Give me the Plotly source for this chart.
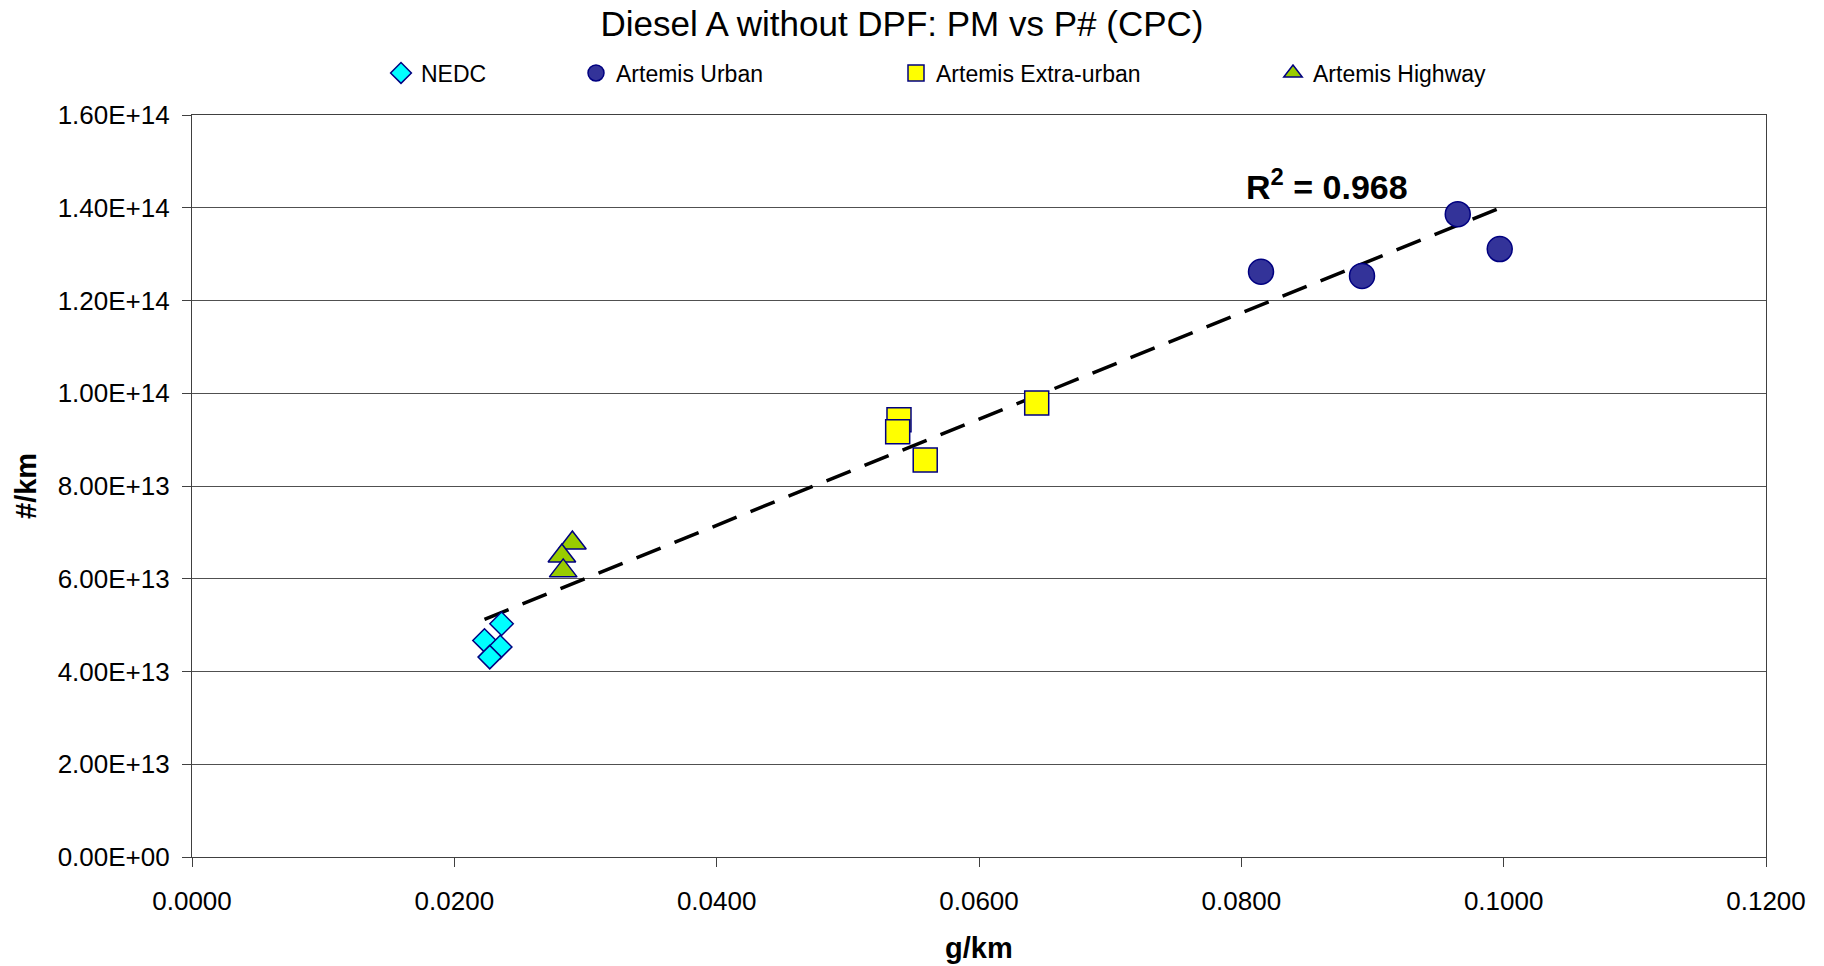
import numpy as np
import plotly.graph_objects as go

# ---- data ----
nedc_x = [0.0236, 0.0223, 0.0235, 0.0227]
nedc_y = [5.03e13, 4.67e13, 4.53e13, 4.31e13]

urban_x = [0.0815, 0.0892, 0.0965, 0.0997]
urban_y = [1.262e14, 1.253e14, 1.386e14, 1.311e14]

extra_x = [0.0539, 0.0538, 0.0559, 0.0644]
extra_y = [9.43e13, 9.17e13, 8.56e13, 9.79e13]

highway_x = [0.0290, 0.0282, 0.0283]
highway_y = [6.77e13, 6.49e13, 6.17e13]

y_tickvals = [0, 2e13, 4e13, 6e13, 8e13, 1e14, 1.2e14, 1.4e14, 1.6e14]
y_ticktext = ["0.00E+00", "2.00E+13", "4.00E+13", "6.00E+13", "8.00E+13",
              "1.00E+14", "1.20E+14", "1.40E+14", "1.60E+14"]
x_tickvals = [0.0, 0.02, 0.04, 0.06, 0.08, 0.10, 0.12]

r2_text = "R<sup>2</sup> = 0.968"

FONT = "Liberation Sans, Arial, sans-serif"
EDGE = "#000080"

fig = go.Figure()

# linear trend over all points
all_x = np.array(nedc_x + urban_x + extra_x + highway_x)
all_y = np.array(nedc_y + urban_y + extra_y + highway_y)
slope, intercept = np.polyfit(all_x, all_y, 1)
tx = np.array([all_x.min(), all_x.max()])
fig.add_trace(go.Scatter(x=tx, y=slope * tx + intercept, mode="lines",
                         line=dict(color="black", width=3.5, dash="26px,15px"),
                         showlegend=False, hoverinfo="skip"))

series = [
    ("NEDC", nedc_x, nedc_y, "diamond", "#00FFFF", 18, "legend"),
    ("Artemis Urban", urban_x, urban_y, "circle", "#333399", 25, "legend2"),
    ("Artemis Extra-urban", extra_x, extra_y, "square", "#FFFF00", 24, "legend3"),
    ("Artemis Highway", highway_x, highway_y, "triangle-up", "#99CC00", 24, "legend4"),
]
for name, xs, ys, sym, col, sz, lg in series:
    fig.add_trace(go.Scatter(x=xs, y=ys, mode="markers", name=name, legend=lg,
                             marker=dict(symbol=sym, color=col, size=sz,
                                         line=dict(color=EDGE, width=1.5))))

# page has an 8px body margin -> figure drawn 8px right/down
OFF = 8
W, H = 1824 - OFF, 966 - OFF
L, R, T, B = 184, 58, 107, 109
pw = W - L - R
ph = H - T - B

def lx(page_px):
    return ((page_px - OFF) - 14 - L) / pw

legend_common = dict(orientation="h", yanchor="middle", y=1 + (T - (73 - OFF)) / ph,
                     xanchor="left",
                     font=dict(family=FONT, size=23, color="black"),
                     bgcolor="rgba(0,0,0,0)", itemsizing="trace")

fig.update_layout(
    width=W, height=H,
    margin=dict(l=L, r=R, t=T, b=B),
    paper_bgcolor="white", plot_bgcolor="white",
    font=dict(family=FONT, color="black"),
    title=dict(text="Diesel A without DPF: PM vs P# (CPC)", x=(902 - OFF) / W, xref="container",
               xanchor="center", y=1 - (24 - OFF) / H, yref="container", yanchor="middle",
               font=dict(family=FONT, size=35, color="black")),
    legend=dict(x=lx(395), **legend_common),
    legend2=dict(x=lx(590), **legend_common),
    legend3=dict(x=lx(910), **legend_common),
    legend4=dict(x=lx(1287), **legend_common),
    xaxis=dict(range=[0, 0.12], tickvals=x_tickvals, tickformat=".4f",
               showgrid=False, zeroline=False, showline=True, linecolor="#404040",
               linewidth=1.2, mirror=True, ticks="outside", ticklen=9, tickcolor="#404040",
               tickfont=dict(family=FONT, size=26, color="black"), ticklabelstandoff=12),
    yaxis=dict(range=[0, 1.6e14], tickvals=y_tickvals, ticktext=y_ticktext,
               showgrid=True, gridcolor="#505050", gridwidth=1, zeroline=False,
               showline=True, linecolor="#404040", linewidth=1.2, mirror=True,
               ticks="outside", ticklen=9, tickcolor="#404040",
               tickfont=dict(family=FONT, size=26, color="black"), ticklabelstandoff=7),
    annotations=[
        dict(text="<b>g/km</b>", xref="paper", yref="paper", x=0.5,
             y=-((948 - OFF) - (H - B)) / ph,
             xanchor="center", yanchor="middle", showarrow=False,
             font=dict(family=FONT, size=29, color="black")),
        dict(text="<b>#/km</b>", xref="paper", yref="paper", x=((26 - OFF) - L) / pw, y=0.5,
             xanchor="center", yanchor="middle", textangle=-90, showarrow=False,
             font=dict(family=FONT, size=29, color="black")),
        dict(text="<b>" + r2_text + "</b>", xref="x", yref="y", x=0.0865, y=1.451e14,
             xanchor="center", yanchor="middle", showarrow=False,
             font=dict(family=FONT, size=34, color="black")),
    ],
)

fig.write_html("out.html")
